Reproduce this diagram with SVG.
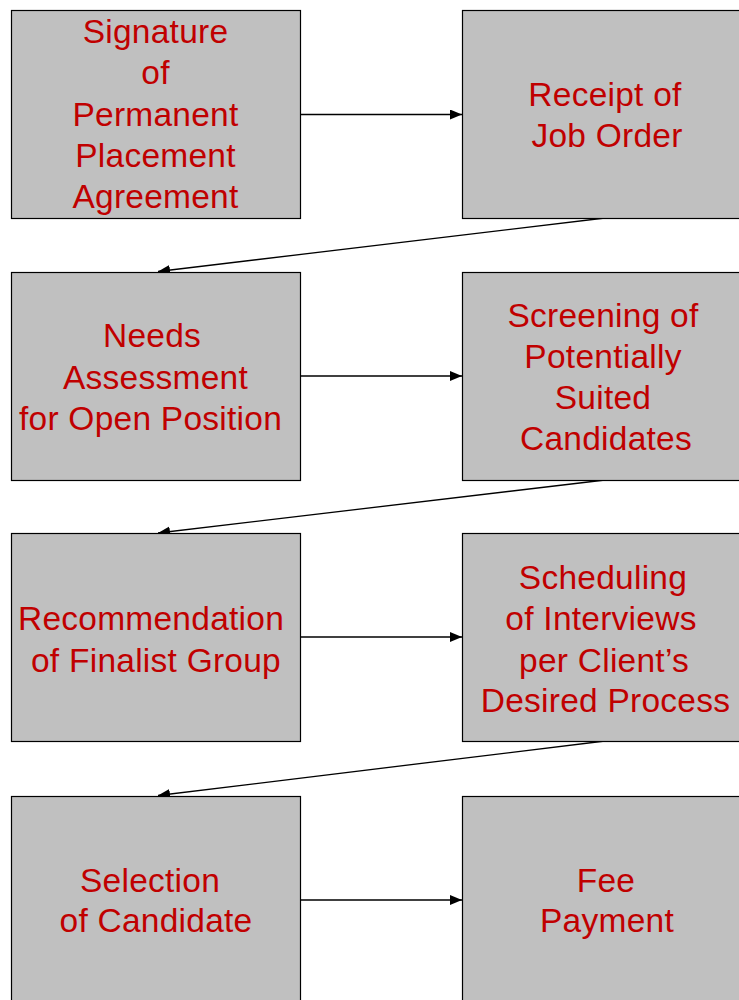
<svg xmlns="http://www.w3.org/2000/svg" width="739" height="1000" viewBox="0 0 739 1000">
<style>
.box{fill:#C0C0C0;stroke:#000;stroke-width:1.2}
.t{font-family:"Liberation Sans",Arial,sans-serif;font-size:33.5px;letter-spacing:0.25px;fill:#C00000;text-anchor:middle}
.c{stroke:#000;stroke-width:1.3;fill:none;marker-end:url(#ah)}
</style>
<defs>
<marker id="ah" markerWidth="13" markerHeight="11" refX="12" refY="5" orient="auto" markerUnits="userSpaceOnUse">
<path d="M0,0 L12,5 L0,10 Z" fill="#000"/>
</marker>
</defs>
<rect width="739" height="1000" fill="#fff"/>
<g id="connectors">
<line class="c" x1="301" y1="114.5" x2="462" y2="114.5"/>
<line class="c" x1="605" y1="218" x2="158" y2="271.5"/>
<line class="c" x1="301" y1="376" x2="462" y2="376"/>
<line class="c" x1="605" y1="480" x2="158" y2="533"/>
<line class="c" x1="301" y1="637" x2="462" y2="637"/>
<line class="c" x1="605" y1="741" x2="158" y2="795.5"/>
<line class="c" x1="301" y1="900" x2="462" y2="900"/>
</g>
<g id="n1"><rect class="box" x="11.5" y="10.5" width="289" height="208"/>
<text class="t"><tspan x="155.5" y="43">Signature</tspan><tspan x="155.5" y="84">of</tspan><tspan x="155.5" y="126">Permanent</tspan><tspan x="155.5" y="167">Placement</tspan><tspan x="155.5" y="208">Agreement</tspan></text></g>
<g id="n2"><rect class="box" x="462.5" y="10.5" width="289" height="208"/>
<text class="t"><tspan x="605" y="106">Receipt of</tspan><tspan x="607" y="147">Job Order</tspan></text></g>
<g id="n3"><rect class="box" x="11.5" y="272.5" width="289" height="208"/>
<text class="t"><tspan x="152" y="347">Needs</tspan><tspan x="155.5" y="389">Assessment</tspan><tspan x="150.5" y="430">for Open Position</tspan></text></g>
<g id="n4"><rect class="box" x="462.5" y="272.5" width="289" height="208"/>
<text class="t"><tspan x="603" y="327">Screening of</tspan><tspan x="603" y="368">Potentially</tspan><tspan x="603" y="409">Suited</tspan><tspan x="606" y="450">Candidates</tspan></text></g>
<g id="n5"><rect class="box" x="11.5" y="533.5" width="289" height="208"/>
<text class="t"><tspan x="151" y="630">Recommendation</tspan><tspan x="156" y="672">of Finalist Group</tspan></text></g>
<g id="n6"><rect class="box" x="462.5" y="533.5" width="289" height="208"/>
<text class="t"><tspan x="603" y="589">Scheduling</tspan><tspan x="601" y="630">of Interviews</tspan><tspan x="604" y="672">per Client’s</tspan><tspan x="605.5" y="712">Desired Process</tspan></text></g>
<g id="n7"><rect class="box" x="11.5" y="796.5" width="289" height="208"/>
<text class="t"><tspan x="150" y="892">Selection</tspan><tspan x="156" y="932">of Candidate</tspan></text></g>
<g id="n8"><rect class="box" x="462.5" y="796.5" width="289" height="208"/>
<text class="t"><tspan x="606" y="892">Fee</tspan><tspan x="607" y="932">Payment</tspan></text></g>
</svg>
